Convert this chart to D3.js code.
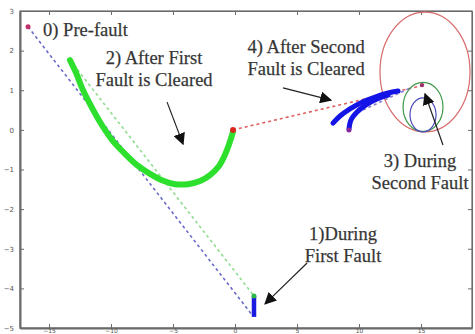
<!DOCTYPE html>
<html>
<head>
<meta charset="utf-8">
<script src="https://cdn.jsdelivr.net/npm/d3@7"></script>
<style>
  body { margin: 0; background: #fff; }
  svg { display: block; }
  .axis path, .axis line { stroke: #6a6a6a; }
  .axis text { fill: #555; font-family: "DejaVu Sans", sans-serif; font-size: 7px; }
  .axis.xb text { font-size: 6px; }
  .note { fill: #333; stroke: #444; stroke-width: 0.25px; font-family: "Liberation Serif", serif; font-size: 18.5px; }
</style>
</head>
<body>
<div id="chart"></div>
<script>
// axis ticks
const xTicks = [-15, -10, -5, 0, 5, 10, 15];
const yTicks = [3, 2, 1, 0, -1, -2, -3, -4, -5];

// 0) pre-fault operating point
const preFault = [-16.69, 2.60];

// 1) during first fault
const firstFault = [[1.53, -4.19], [1.53, -4.45], [1.53, -4.72]];

// 2) after first fault is cleared
const afterFirst = [
  [-13.31, 1.76], [-12.82, 1.44], [-12.34, 1.06], [-11.69, 0.65], [-10.89, 0.20],
  [-9.92, -0.25], [-8.95, -0.58], [-7.90, -0.89], [-6.85, -1.11], [-5.89, -1.27],
  [-4.84, -1.37], [-3.79, -1.37], [-2.82, -1.29], [-2.02, -1.14], [-1.29, -0.91],
  [-0.81, -0.63], [-0.48, -0.36], [-0.24, -0.13], [-0.16, -0.03]
];
const clearPoint = [-0.16, 0.00];

// 3) during second fault: orbits [cx, cy, rx, ry]
const secondFaultOrbits = [
  { color: "#d76a6a", e: [15.32, 1.46, 3.63, 1.51] },
  { color: "#3f9a4a", e: [15.16, 0.58, 1.61, 0.62] },
  { color: "#4a4ab8", e: [15.16, 0.38, 1.05, 0.43] }
];
const secondFaultPoint = [15.08, 1.13];

// 4) after second fault is cleared
const afterSecondA = [
  [7.90, 0.17], [8.47, 0.35], [9.27, 0.53], [10.24, 0.70],
  [11.29, 0.83], [12.34, 0.93], [13.15, 0.98]
];
const afterSecondB = [
  [9.19, 0.02], [9.35, 0.25], [9.84, 0.45], [10.56, 0.63],
  [11.45, 0.78], [12.34, 0.88]
];
const afterSecondEnd = [9.19, 0.00];

// dashed jumps between stages
const jumps = [
  { color: "#6a6acc", p: [preFault, [1.45, -4.70]] },
  { color: "#8fdc8f", p: [[-13.31, 1.76], [1.53, -4.19]] },
  { color: "#e06060", p: [clearPoint, [15.0, 1.11]] },
  { color: "#8a7ad0", p: [[10.32, 0.50], [14.27, 1.08]] }
];

// annotations: lines, text centre / baseline, arrow from -> to
const notes = [
  { lines: ["0) Pre-fault"], at: [-15.48, 2.37], anchor: "start" },
  { lines: ["2) After First", "Fault is Cleared"], at: [-6.53, 1.66], anchor: "middle",
    arrow: [[-5.48, 0.70], [-4.19, -0.36]] },
  { lines: ["4) After Second", "Fault is Cleared"], at: [5.73, 1.94], anchor: "middle",
    arrow: [[3.87, 1.06], [7.74, 0.75]] },
  { lines: ["3) During", "Second Fault"], at: [14.92, -0.93], anchor: "middle",
    arrow: [[16.77, -0.38], [15.32, 0.91]] },
  { lines: ["1)During", "First Fault"], at: [8.71, -2.78], anchor: "middle",
    arrow: [[5.81, -3.36], [2.42, -4.39]] }
];

const W = 475, H = 334;
const margin = {top: 11, right: 3, bottom: 6, left: 20};
const width = W - margin.left - margin.right;
const height = H - margin.top - margin.bottom;

const x = d3.scaleLinear().domain([-17.34, 19.11]).range([0, width]);
const y = d3.scaleLinear().domain([-5, 3]).range([height, 0]);

const svg = d3.select("#chart").append("svg")
    .attr("width", W).attr("height", H)
  .append("g")
    .attr("transform", "translate(" + margin.left + "," + margin.top + ")");

svg.append("defs").append("marker")
    .attr("id", "head")
    .attr("viewBox", "0 0 10 10")
    .attr("refX", 9).attr("refY", 5)
    .attr("markerWidth", 12).attr("markerHeight", 12)
    .attr("markerUnits", "userSpaceOnUse")
    .attr("orient", "auto")
  .append("path")
    .attr("d", "M0,0 L10,5 L0,10 Z")
    .attr("fill", "#111");

// frame + axes
svg.append("rect")
    .attr("width", width).attr("height", height)
    .attr("fill", "none").attr("stroke", "#6a6a6a").attr("stroke-width", 1.2);

svg.append("g").attr("class", "axis")
    .call(d3.axisLeft(y).tickValues(yTicks).tickSizeInner(-4).tickSizeOuter(0).tickPadding(6))
    .call(g => g.select(".domain").attr("stroke-width", 2));
svg.append("g").attr("class", "axis")
    .attr("transform", "translate(" + width + ",0)")
    .call(d3.axisRight(y).tickValues(yTicks).tickSizeInner(-4).tickSizeOuter(0).tickFormat(""));
svg.append("g").attr("class", "axis xb")
    .attr("transform", "translate(0," + height + ")")
    .call(d3.axisBottom(x).tickValues(xTicks).tickSizeInner(-4).tickSizeOuter(0).tickPadding(0.8))
    .call(g => g.select(".domain").attr("stroke-width", 2))
    .call(g => g.selectAll(".tick line").attr("y2", 1).attr("y1", -4));
svg.append("g").attr("class", "axis")
    .call(d3.axisTop(x).tickValues(xTicks).tickSizeInner(-4).tickSizeOuter(0).tickFormat(""));

const line = d3.line().x(d => x(d[0])).y(d => y(d[1])).curve(d3.curveCatmullRom);

// dashed jumps
svg.selectAll(".jump").data(jumps).enter().append("path")
    .attr("class", "jump")
    .attr("d", d => d3.line().x(p => x(p[0])).y(p => y(p[1])) (d.p))
    .attr("fill", "none")
    .attr("stroke", d => d.color)
    .attr("stroke-width", 1.6)
    .attr("stroke-dasharray", "3,3");

// second fault orbits
svg.selectAll(".orbit").data(secondFaultOrbits).enter().append("ellipse")
    .attr("class", "orbit")
    .attr("cx", d => x(d.e[0]))
    .attr("cy", d => y(d.e[1]))
    .attr("rx", d => x(d.e[0] + d.e[2]) - x(d.e[0]))
    .attr("ry", d => y(0) - y(d.e[3]))
    .attr("fill", "none")
    .attr("stroke", d => d.color)
    .attr("stroke-width", 1.2);

// after first fault cleared
svg.append("path").datum(afterFirst)
    .attr("d", line)
    .attr("fill", "none").attr("stroke", "#2ee02e")
    .attr("stroke-width", 6).attr("stroke-linecap", "round");

// during first fault
svg.append("path").datum(firstFault)
    .attr("d", line)
    .attr("fill", "none").attr("stroke", "#1a1ae0")
    .attr("stroke-width", 4.5);

// after second fault cleared
[afterSecondA, afterSecondB].forEach(s => {
  svg.append("path").datum(s)
      .attr("d", line)
      .attr("fill", "none").attr("stroke", "#1414e6")
      .attr("stroke-width", 5).attr("stroke-linecap", "round");
});

// marker points
const dots = [
  { p: preFault, c: "#c0306a", r: 2.5 },
  { p: firstFault[0], c: "#2eb84a", r: 2.5 },
  { p: clearPoint, c: "#d8281e", r: 3 },
  { p: secondFaultPoint, c: "#a0306a", r: 2.2 },
  { p: afterSecondEnd, c: "#8a2a9a", r: 2.5 }
];
svg.selectAll(".dot").data(dots).enter().append("circle")
    .attr("class", "dot")
    .attr("cx", d => x(d.p[0])).attr("cy", d => y(d.p[1]))
    .attr("r", d => d.r).attr("fill", d => d.c);

// annotations
notes.forEach(n => {
  const t = svg.append("text").attr("class", "note")
      .attr("x", x(n.at[0])).attr("y", y(n.at[1]))
      .attr("text-anchor", n.anchor);
  n.lines.forEach((s, i) => {
    t.append("tspan").attr("x", x(n.at[0])).attr("dy", i ? 22 : 0).text(s);
  });
  if (n.arrow) {
    svg.append("line")
        .attr("x1", x(n.arrow[0][0])).attr("y1", y(n.arrow[0][1]))
        .attr("x2", x(n.arrow[1][0])).attr("y2", y(n.arrow[1][1]))
        .attr("stroke", "#222").attr("stroke-width", 1.2)
        .attr("marker-end", "url(#head)");
  }
});
</script>
</body>
</html>
